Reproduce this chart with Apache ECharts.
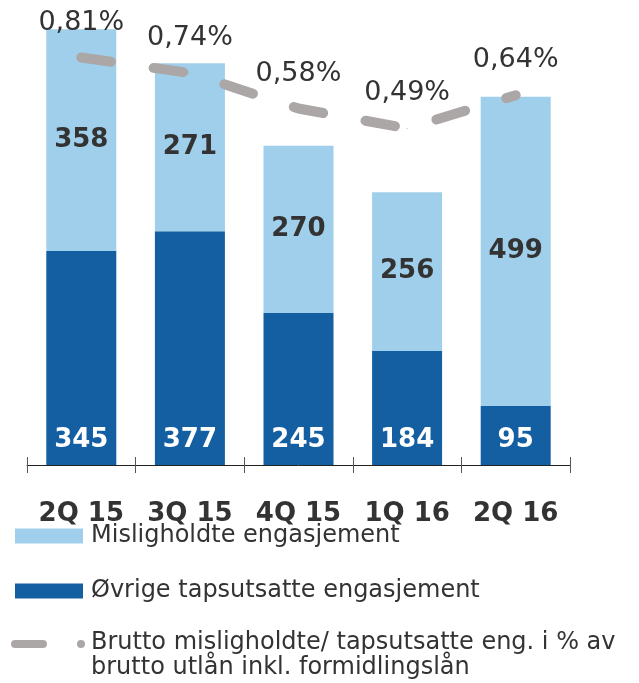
<!DOCTYPE html>
<html>
<head>
<meta charset="utf-8">
<style>
  html, body { margin: 0; padding: 0; background: #fff; }
  #chart { width: 639px; height: 683px; }
</style>
<script src="https://cdn.jsdelivr.net/npm/echarts@6/dist/echarts.min.js"></script>
</head>
<body>
<div id="chart"></div>
<script>
const quarters = ['2Q 15', '3Q 15', '4Q 15', '1Q 16', '2Q 16'];
const misligholdte = [358, 271, 270, 256, 499];
const ovrige = [345, 377, 245, 184, 95];
const bruttoPct = [0.81, 0.74, 0.58, 0.49, 0.64];

const nameLight = 'Misligholdte engasjement';
const nameDark = 'Øvrige tapsutsatte engasjement';
const nameLine = 'Brutto misligholdte/ tapsutsatte eng. i % av\nbrutto utlån inkl. formidlingslån';

const font = 'DejaVu Sans';
const textColor = '#333333';
const lightBlue = '#A0CFEB';
const darkBlue = '#145FA2';
const grey = '#ABA7A7';

// legend icon for the line: rounded dash + small dot, drawn in the top part of a 74x48 box
const lineIcon = 'path://M0 0 L0.01 0 M74 48 L73.99 48 ' +
    'M4 9 L32 9 A4 4 0 0 1 32 17 L4 17 A4 4 0 0 1 4 9 Z ' +
    'M66 13 A4 4 0 1 0 74 13 A4 4 0 1 0 66 13 Z';

const chart = echarts.init(document.getElementById('chart'));

const option = {
    animation: false,
    grid: {left: 27, right: 69, top: 0, bottom: 218},
    legend: [
        {
            orient: 'vertical',
            left: 15,
            top: 524,
            padding: 0,
            itemWidth: 68,
            itemHeight: 15,
            itemGap: 31,
            textStyle: {fontFamily: font, fontSize: 24, color: textColor, padding: [0, 0, 0, 3]},
            data: [
                {name: nameLight, icon: 'rect'},
                {name: nameDark, icon: 'rect'}
            ]
        },
        {
            orient: 'vertical',
            left: 11,
            top: 630,
            padding: 0,
            itemWidth: 74,
            itemHeight: 50,
            textStyle: {fontFamily: font, fontSize: 24, color: textColor, lineHeight: 25, padding: [0, 0, 0, 1]},
            data: [
                {name: nameLine, icon: lineIcon, itemStyle: {color: grey, borderWidth: 0}}
            ]
        }
    ],
    xAxis: [
        {
            type: 'category',
            data: quarters,
            position: 'bottom',
            axisLine: {onZero: false, lineStyle: {color: '#222', width: 1}},
            axisTick: {show: true, length: 8, lineStyle: {color: '#555'}},
            axisLabel: {
                interval: 0,
                margin: 36,
                fontFamily: font,
                fontSize: 26,
                fontWeight: 'bold',
                color: textColor
            }
        },
        {
            type: 'category',
            data: quarters,
            position: 'bottom',
            axisLine: {show: false, onZero: false},
            axisTick: {show: true, inside: true, length: 8, lineStyle: {color: '#555'}},
            axisLabel: {show: false}
        }
    ],
    yAxis: [
        {type: 'value', min: 0, max: 750, show: false, splitLine: {show: false}},
        {type: 'value', min: -1.03, max: 1.07, show: false, splitLine: {show: false}}
    ],
    series: [
        {
            name: nameDark,
            type: 'bar',
            stack: 'eng',
            data: ovrige,
            barWidth: 70,
            itemStyle: {color: darkBlue},
            label: {
                show: true,
                position: 'insideBottom',
                distance: 12,
                fontFamily: font,
                fontSize: 26,
                fontWeight: 'bold',
                color: '#fff'
            }
        },
        {
            name: nameLight,
            type: 'bar',
            stack: 'eng',
            data: misligholdte,
            barWidth: 70,
            itemStyle: {color: lightBlue},
            label: {
                show: true,
                position: 'inside',
                fontFamily: font,
                fontSize: 26,
                fontWeight: 'bold',
                color: textColor
            }
        },
        {
            name: nameLine,
            type: 'line',
            yAxisIndex: 1,
            data: bruttoPct,
            z: 5,
            symbol: 'circle',
            symbolSize: 1,
            itemStyle: {color: grey},
            lineStyle: {color: grey, width: 10, type: [30, 43], cap: 'round'},
            label: {
                show: true,
                position: 'top',
                distance: 21,
                fontFamily: font,
                fontSize: 27,
                color: textColor,
                formatter: p => p.value.toFixed(2).replace('.', ',') + '%'
            }
        }
    ]
};

chart.setOption(option);
window.addEventListener('resize', () => chart.resize());
</script>
</body>
</html>
